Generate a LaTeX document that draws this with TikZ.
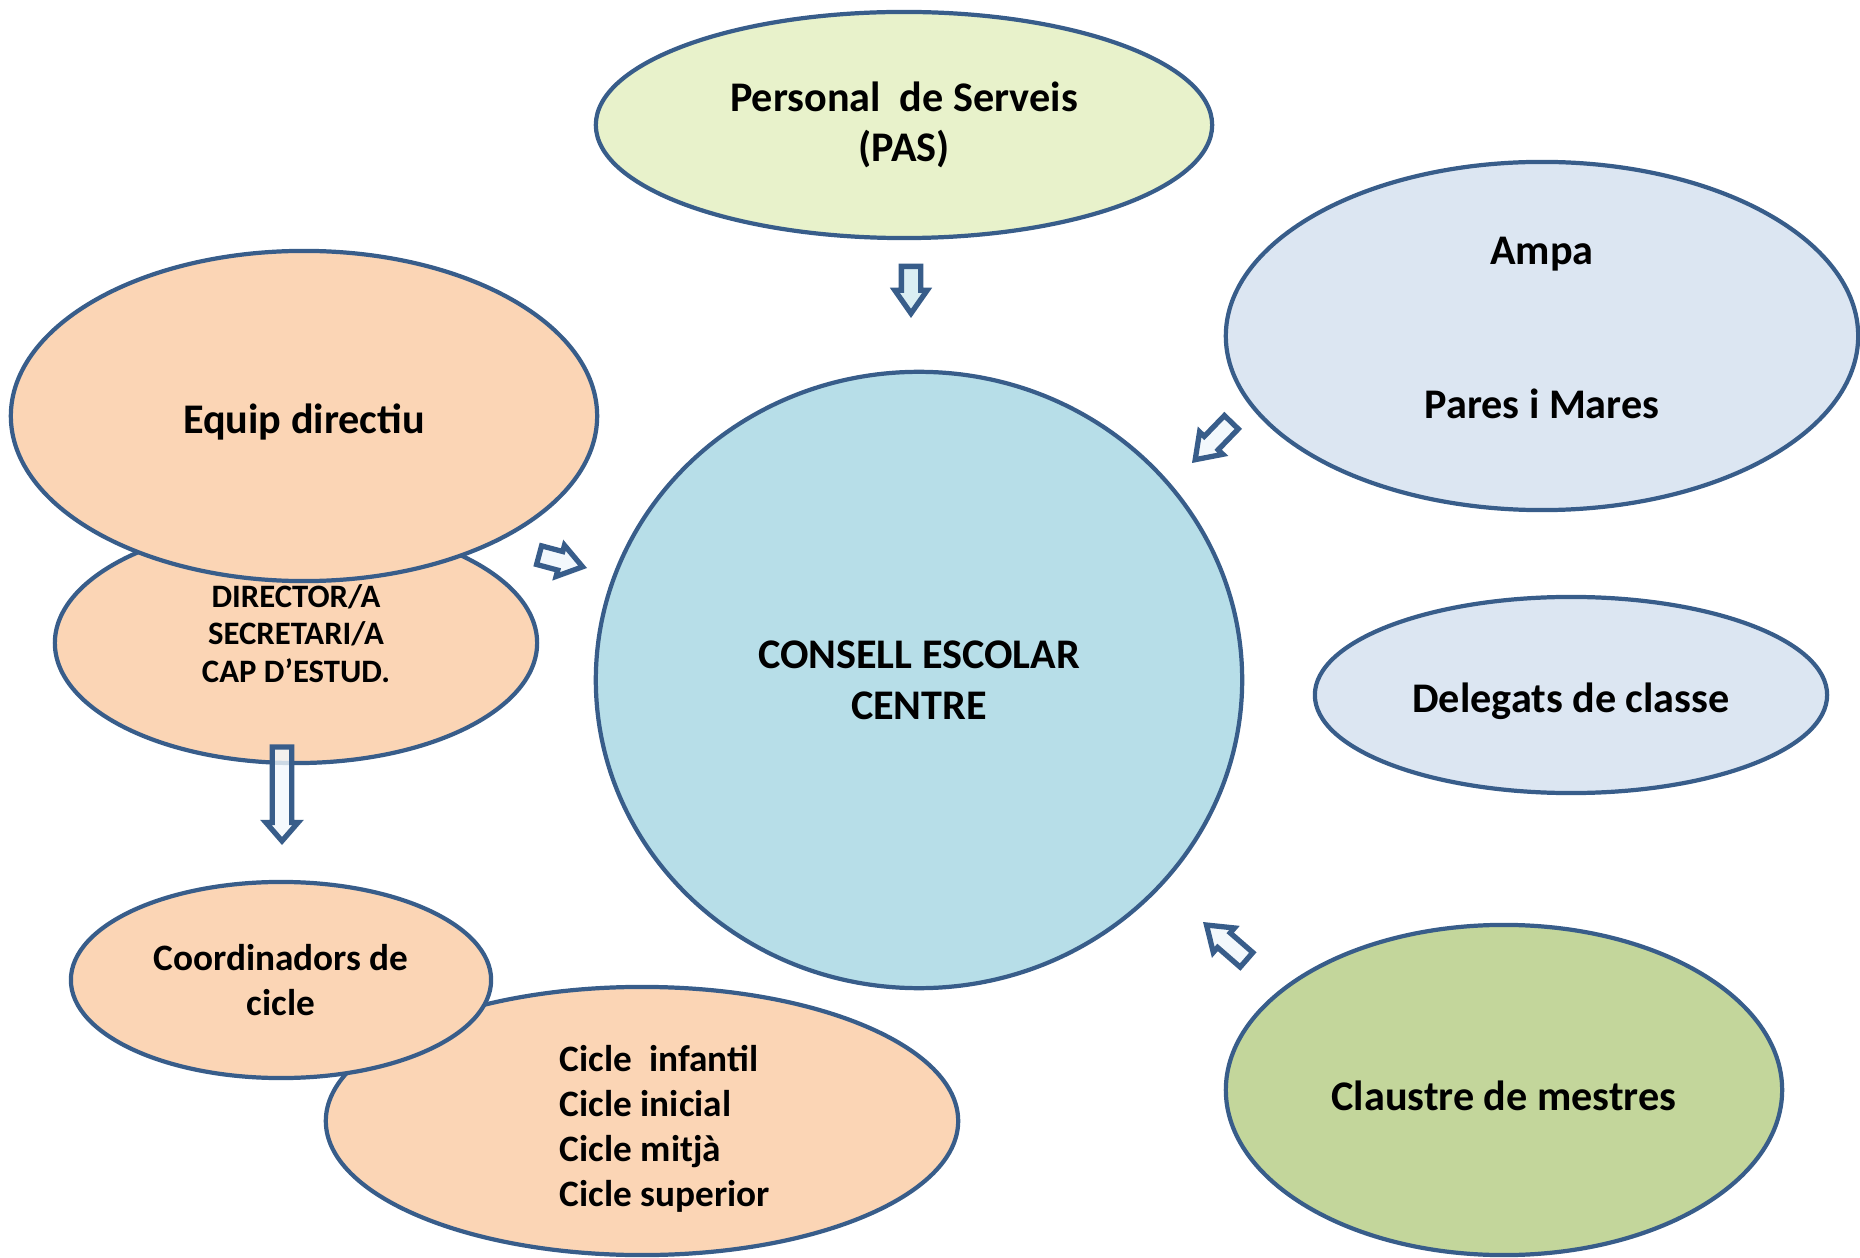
\documentclass[tikz,border=0pt]{standalone}
\usepackage{fontspec}
\setmainfont{Carlito}
\usetikzlibrary{shapes.geometric,shapes.arrows}

\definecolor{edge}{HTML}{385D8A}
\definecolor{peach}{HTML}{FBD5B5}
\definecolor{lime}{HTML}{E8F2CB}
\definecolor{paleblue}{HTML}{DCE6F2}
\definecolor{aqua}{HTML}{B7DEE8}
\definecolor{sage}{HTML}{C3D69B}
\definecolor{arrowfill}{HTML}{F2F8FC}
\definecolor{arrowfilldark}{HTML}{DAEEF3}

\tikzset{
	bubble/.style={ellipse, draw=edge, line width=1.2pt, align=center, inner sep=0pt,
		font=\bfseries\fontsize{12}{14.4}\selectfont,
		execute at begin node={\rule{0pt}{1em}}},
	smalltext/.style={font=\bfseries\fontsize{10.6}{12.8}\selectfont},
	blockarrow/.style={single arrow, draw=edge, fill=arrowfill, line width=1.5pt,
		inner xsep=0pt, inner ysep=0.7mm, single arrow head extend=0.65mm,
		single arrow tip angle=70, anchor=tip},
}

\begin{document}
\begin{tikzpicture}[x=0.01cm, y=-0.01cm]

	% frame
	\useasboundingbox (0,0) rectangle (1860,1258);

	% ellipses
	\node[bubble, fill=lime, minimum width=6.16cm, minimum height=2.26cm] (pas) at (904,125)
		{Personal~ de Serveis\\(PAS)};
	\node[bubble, fill=paleblue, minimum width=6.32cm, minimum height=3.48cm,
		execute at begin node={}, execute at end node={\rule[-4.8pt]{0pt}{4.8pt}}] (ampa) at (1542,336)
		{Ampa\\[29.5pt]Pares i Mares};
	\node[bubble, fill=peach, minimum width=4.82cm, minimum height=2.40cm,
		font=\bfseries\fontsize{9.3}{10.8}\selectfont,
		execute at begin node={}, execute at end node={\rule[-5.4pt]{0pt}{5.4pt}}] (director) at (296,643)
		{DIRECTOR/A\\ SECRETARI/A\\CAP D’ESTUD.};
	\node[bubble, fill=peach, minimum width=5.86cm, minimum height=3.30cm] (equip) at (304,416)
		{Equip directiu};
	\node[bubble, fill=aqua, minimum width=6.46cm, minimum height=6.16cm] (consell) at (919,680)
		{CONSELL ESCOLAR\\CENTRE};
	\node[bubble, fill=paleblue, minimum width=5.12cm, minimum height=1.96cm] (delegats) at (1571,695)
		{Delegats de classe};
	\node[bubble, fill=peach, minimum width=6.32cm, minimum height=2.68cm] (cicles) at (642,1121) {};
	\node[smalltext, align=left] (cicletext) at (665,1129)
		{Cicle~ infantil\\Cicle inicial\\Cicle mitjà\\Cicle superior};
	\node[bubble, smalltext, fill=peach, minimum width=4.20cm, minimum height=1.96cm] (coord) at (281,980)
		{Coordinadors de\\cicle};
	\node[bubble, fill=sage, minimum width=5.56cm, minimum height=3.30cm] (claustre) at (1504,1090)
		{Claustre de mestres};

	% arrows
	\node[blockarrow, fill=arrowfilldark, minimum height=0.47cm, rotate=-90] (pasarrow) at (911,318) {};
	\node[blockarrow, minimum height=0.52cm, rotate=-134] (ampaarrow) at (1192,463) {};
	\node[blockarrow, minimum height=0.45cm, rotate=-15] (equiparrow) at (587,568) {};
	\node[blockarrow, fill opacity=0.8, minimum height=0.94cm, single arrow tip angle=82,
		rotate=-90] (directorarrow) at (282,845) {};
	\node[blockarrow, minimum height=0.53cm, rotate=139] (claustrearrow) at (1203,922) {};

\end{tikzpicture}
\end{document}
